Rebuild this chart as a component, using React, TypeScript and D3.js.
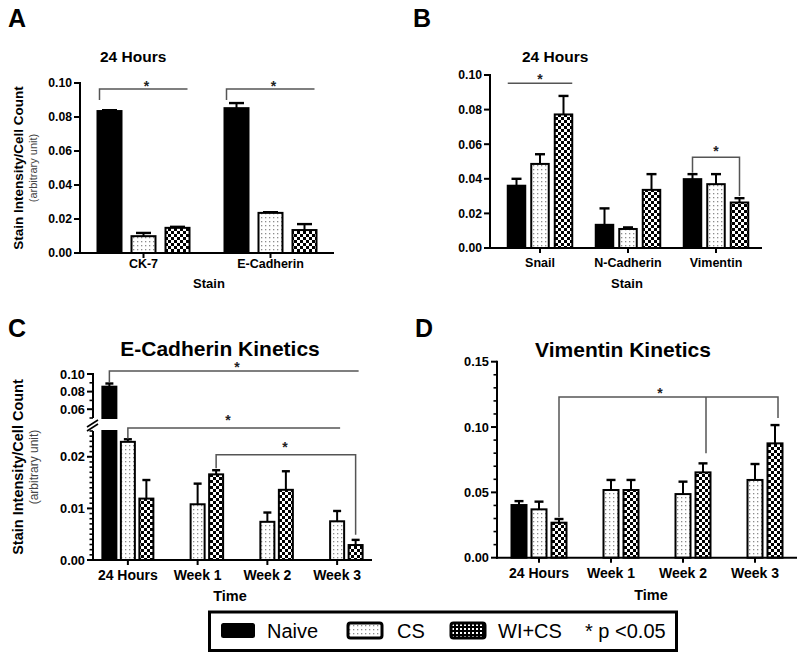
import React from "react";
import * as d3 from "d3";

const FONT = "'Liberation Sans', Arial, Helvetica, sans-serif";

const seriesNames = ["Naive", "CS", "WI+CS"];

// Panel A – 24 Hours
const stainsA = ["CK-7", "E-Cadherin"];
const naiveA = [0.0835, 0.0852];
const naiveErrA = [0.0005, 0.003];
const csA = [0.0099, 0.0236];
const csErrA = [0.0019, 0.0004];
const wiA = [0.0148, 0.0135];
const wiErrA = [0.0006, 0.0035];

// Panel B – 24 Hours
const stainsB = ["Snail", "N-Cadherin", "Vimentin"];
const naiveB = [0.036, 0.0134, 0.0398];
const naiveErrB = [0.004, 0.0095, 0.0029];
const csB = [0.0486, 0.011, 0.0369];
const csErrB = [0.0056, 0.0009, 0.0058];
const wiB = [0.0772, 0.0336, 0.0263];
const wiErrB = [0.0107, 0.0091, 0.0025];

// Panel C – E-Cadherin kinetics
const timesC = ["24 Hours", "Week 1", "Week 2", "Week 3"];
const naiveC = [0.0856, null, null, null];
const naiveErrC = [0.0036, 0, 0, 0];
const csC = [0.0229, 0.0108, 0.0074, 0.0075];
const csErrC = [0.0005, 0.004, 0.0018, 0.002];
const wiC = [0.0119, 0.0166, 0.0136, 0.0029];
const wiErrC = [0.0036, 0.0008, 0.0036, 0.001];

// Panel D – Vimentin kinetics
const timesD = ["24 Hours", "Week 1", "Week 2", "Week 3"];
const naiveD = [0.0403, null, null, null];
const naiveErrD = [0.003, 0, 0, 0];
const csD = [0.037, 0.0518, 0.0487, 0.0595];
const csErrD = [0.0059, 0.0077, 0.0095, 0.0122];
const wiD = [0.0268, 0.0518, 0.0653, 0.0875];
const wiErrD = [0.0028, 0.0077, 0.0069, 0.014];

const ticksAB = [0, 0.02, 0.04, 0.06, 0.08, 0.1];
const ticksCLower = [0, 0.01, 0.02];
const ticksCUpper = [0.06, 0.08, 0.1];
const ticksD = [0, 0.05, 0.1, 0.15];

const FILLS = ["#000", "url(#dots)", "url(#checker)"];

type Num = number | null;

function Bar({ cx, bw, yTop, yBottom, kind }: any) {
  return (
    <rect x={cx - bw / 2} y={yTop} width={bw} height={yBottom - yTop}
      fill={FILLS[kind]} stroke="#000" strokeWidth={2} />
  );
}

function ErrBar({ cx, capW, yFrom, yTo }: any) {
  return (
    <g>
      <line x1={cx} x2={cx} y1={yFrom} y2={yTo} stroke="#000" strokeWidth={2} />
      <line x1={cx - capW / 2} x2={cx + capW / 2} y1={yTo} y2={yTo} stroke="#000" strokeWidth={2.4} />
    </g>
  );
}

function YAxis({ x, scale, major, minor = [], fmt, fs, yA, yB }: any) {
  const r = scale.range();
  return (
    <g>
      <line x1={x} x2={x} y1={yA ?? r[0] + 1} y2={yB ?? r[1] - 1} stroke="#000" strokeWidth={2} />
      {minor.map((v: number) => (
        <line key={"m" + v} x1={x - 3.5} x2={x} y1={scale(v)} y2={scale(v)} stroke="#000" strokeWidth={1.6} />
      ))}
      {major.map((v: number) => (
        <g key={v}>
          <line x1={x - 6} x2={x} y1={scale(v)} y2={scale(v)} stroke="#000" strokeWidth={2} />
          <text x={x - 8} y={scale(v)} dy="0.36em" textAnchor="end" fontFamily={FONT}
            fontWeight="bold" fontSize={fs}>{fmt(v)}</text>
        </g>
      ))}
    </g>
  );
}

function XAxis({ x0, x1, y, scale, cats, fs, labelY }: any) {
  return (
    <g>
      <line x1={x0 - 1} x2={x1} y1={y} y2={y} stroke="#000" strokeWidth={2} />
      {cats.map((c: string) => {
        const cx = scale(c) + scale.bandwidth() / 2;
        return (
          <g key={c}>
            <line x1={cx} x2={cx} y1={y} y2={y + 5} stroke="#000" strokeWidth={2} />
            <text x={cx} y={labelY} textAnchor="middle" fontFamily={FONT} fontWeight="bold" fontSize={fs}>{c}</text>
          </g>
        );
      })}
    </g>
  );
}

function groupBars(cats: string[], xs: any, ys: any, vals: Num[][], errs: number[][], pitch: number, bw: number, capW: number) {
  const out: any[] = [];
  cats.forEach((c, i) => {
    const cx0 = xs(c) + xs.bandwidth() / 2;
    vals.forEach((arr, s) => {
      const v = arr[i];
      if (v == null) return;
      const cx = cx0 + (s - 1) * pitch;
      out.push(<ErrBar key={`e${c}${s}`} cx={cx} capW={capW} yFrom={ys(v)} yTo={ys(v + errs[s][i])} />);
      out.push(<Bar key={`b${c}${s}`} cx={cx} bw={bw} yTop={ys(v)} yBottom={ys(0)} kind={s} />);
    });
  });
  return out;
}

function Star({ x, y, fs = 14 }: any) {
  return <text x={x} y={y} textAnchor="middle" fontFamily={FONT} fontWeight="bold" fontSize={fs} fill="#222">*</text>;
}

const BR = { stroke: "#555", strokeWidth: 1.5, fill: "none" };

const f2 = (v: number) => v.toFixed(2);

export default function App() {
  // ---------- Panel A ----------
  const yA = d3.scaleLinear().domain([0, 0.1]).range([253, 83]);
  const xA = d3.scaleBand().domain(stainsA).range([80, 334]);
  const pA = 34, bwA = 24;
  const cA = (c: string) => (xA(c) as number) + xA.bandwidth() / 2;

  // ---------- Panel B ----------
  const yB = d3.scaleLinear().domain([0, 0.1]).range([248, 75]);
  const xB = d3.scaleBand().domain(stainsB).range([496, 760]);
  const pB = 23.5, bwB = 17.5;
  const cB = (c: string) => (xB(c) as number) + xB.bandwidth() / 2;

  // ---------- Panel C ----------
  const yCL = d3.scaleLinear().domain([0, 0.025]).range([560, 431]);
  const yCU = d3.scaleLinear().domain([0.05, 0.1]).range([418, 374]);
  const xC = d3.scaleBand().domain(timesC).range([93, 372]);
  const pC = 18.5, bwC = 14;
  const cC = (c: string) => (xC(c) as number) + xC.bandwidth() / 2;
  const minorCL = d3.range(0, 26).map((i) => i / 1000).filter((v) => !ticksCLower.some((t) => Math.abs(t - v) < 1e-9));
  const minorCU = [0.05, 0.07, 0.09];

  // ---------- Panel D ----------
  const yD = d3.scaleLinear().domain([0, 0.15]).range([557.7, 361.7]);
  const xD = d3.scaleBand().domain(timesD).range([503, 791]);
  const pD = 20, bwD = 15;
  const cD = (c: string) => (xD(c) as number) + xD.bandwidth() / 2;
  const minorD = d3.range(0, 16).map((i) => i / 100).filter((v) => !ticksD.some((t) => Math.abs(t - v) < 1e-9));

  // Panel C bars (naive bar drawn across the broken axis)
  const cBars: any[] = [];
  timesC.forEach((t, i) => {
    const cx0 = cC(t);
    const n = naiveC[i];
    if (n != null) {
      const cx = cx0 - pC;
      cBars.push(<ErrBar key={"ne" + t} cx={cx} capW={8} yFrom={yCU(n)} yTo={yCU(n + naiveErrC[i])} />);
      cBars.push(<Bar key={"nu" + t} cx={cx} bw={bwC} yTop={yCU(n)} yBottom={yCU(0.05)} kind={0} />);
      cBars.push(<Bar key={"nl" + t} cx={cx} bw={bwC} yTop={yCL(0.025)} yBottom={yCL(0)} kind={0} />);
    }
  });
  cBars.push(...groupBars(timesC, xC, yCL, [[null, null, null, null], csC, wiC], [naiveErrC, csErrC, wiErrC], pC, bwC, 8));

  const legendItems = [
    { kind: 0, sx: 221, tx: 267 },
    { kind: 1, sx: 348, tx: 397 },
    { kind: 2, sx: 451, tx: 498 },
  ];

  return (
    <svg width={800} height={656} style={{ position: "absolute", left: 0, top: 0, background: "#fff" }}>
      <defs>
        <pattern id="dots" width="4" height="4" patternUnits="userSpaceOnUse">
          <rect width="4" height="4" fill="#fff" />
          <rect x="1" y="1" width="1.3" height="1.3" fill="#8c8c8c" />
        </pattern>
        <pattern id="checker" width="6" height="6" patternUnits="userSpaceOnUse">
          <rect width="6" height="6" fill="#fff" />
          <rect width="3" height="3" fill="#000" />
          <rect x="3" y="3" width="3" height="3" fill="#000" />
        </pattern>
        <pattern id="checkerS" width="4" height="4" patternUnits="userSpaceOnUse">
          <rect width="4" height="4" fill="#000" />
          <rect x="0" y="0" width="2" height="2" fill="#fff" />
        </pattern>
      </defs>
      <rect width={800} height={656} fill="#fff" />

      {/* ================= Panel A ================= */}
      <text x={8} y={27} fontFamily={FONT} fontWeight="bold" fontSize={25}>A</text>
      <text x={100} y={62} fontFamily={FONT} fontWeight="bold" fontSize={15.5}>24 Hours</text>
      <text transform={`translate(18,168) rotate(-90)`} textAnchor="middle" dy="0.35em" fontFamily={FONT} fontWeight="bold" fontSize={13.5}>Stain Intensity/Cell Count</text>
      <text transform={`translate(33,168) rotate(-90)`} textAnchor="middle" dy="0.35em" fontFamily={FONT} fontSize={11} fill="#444">(arbitrary unit)</text>
      {groupBars(stainsA, xA, yA, [naiveA, csA, wiA], [naiveErrA, csErrA, wiErrA], pA, bwA, 15)}
      <YAxis x={80} scale={yA} major={ticksAB} fmt={f2} fs={12.2} />
      <XAxis x0={80} x1={334} y={253} scale={xA} cats={stainsA} fs={12.5} labelY={268} />
      <text x={209} y={288} textAnchor="middle" fontFamily={FONT} fontWeight="bold" fontSize={13}>Stain</text>
      {stainsA.map((s, i) => {
        const c = cA(s);
        const xl = c - pA - bwA / 2 + 2;
        const xr = c + pA + bwA / 2 - 2;
        return (
          <g key={"brA" + i}>
            <path d={`M${xl},${yA(0.09)} V${yA(0.0965)} H${xr}`} {...BR} />
            <Star x={c + 3} y={yA(0.0955)} />
          </g>
        );
      })}

      {/* ================= Panel B ================= */}
      <text x={413} y={27} fontFamily={FONT} fontWeight="bold" fontSize={25}>B</text>
      <text x={522} y={62} fontFamily={FONT} fontWeight="bold" fontSize={15.5}>24 Hours</text>
      {groupBars(stainsB, xB, yB, [naiveB, csB, wiB], [naiveErrB, csErrB, wiErrB], pB, bwB, 10)}
      <YAxis x={490} scale={yB} major={ticksAB} fmt={f2} fs={12.2} />
      <XAxis x0={490} x1={762} y={248} scale={xB} cats={stainsB} fs={12.5} labelY={267} />
      <text x={627} y={288} textAnchor="middle" fontFamily={FONT} fontWeight="bold" fontSize={13}>Stain</text>
      {(() => {
        const c0 = cB(stainsB[0]);
        const c2 = cB(stainsB[2]);
        return (
          <g>
            <path d={`M${c0 - pB - bwB / 2},${yB(0.0953)} H${c0 + pB + bwB / 2}`} {...BR} />
            <Star x={c0} y={yB(0.0955) + 1} />
            <path d={`M${c2 - pB},${yB(0.0435)} V${yB(0.0525)} H${c2 + pB} V${yB(0.03)}`} {...BR} />
            <Star x={c2} y={yB(0.0535) + 1} />
          </g>
        );
      })()}

      {/* ================= Panel C ================= */}
      <text x={8} y={337} fontFamily={FONT} fontWeight="bold" fontSize={25}>C</text>
      <text x={220} y={356} textAnchor="middle" fontFamily={FONT} fontWeight="bold" fontSize={21}>E-Cadherin Kinetics</text>
      <text transform={`translate(18,467) rotate(-90)`} textAnchor="middle" dy="0.35em" fontFamily={FONT} fontWeight="bold" fontSize={14.5}>Stain Intensity/Cell Count</text>
      <text transform={`translate(34,467) rotate(-90)`} textAnchor="middle" dy="0.35em" fontFamily={FONT} fontSize={12} fill="#444">(arbitrary unit)</text>
      {cBars}
      <YAxis x={93} scale={yCU} major={ticksCUpper} minor={minorCU} fmt={f2} fs={12.8} yA={yCU(0.05)} yB={yCU(0.1) - 1} />
      <YAxis x={93} scale={yCL} major={ticksCLower} minor={minorCL} fmt={f2} fs={12.8} yA={yCL(0) + 1} yB={yCL(0.025)} />
      <line x1={87} x2={98} y1={yCU(0.05) + 9} y2={yCU(0.05) + 2} stroke="#000" strokeWidth={1.6} />
      <line x1={87} x2={98} y1={yCU(0.05) + 13} y2={yCU(0.05) + 6} stroke="#000" strokeWidth={1.6} />
      <XAxis x0={93} x1={372} y={560} scale={xC} cats={timesC} fs={14} labelY={580} />
      <text x={230} y={601} textAnchor="middle" fontFamily={FONT} fontWeight="bold" fontSize={14.5}>Time</text>
      {(() => {
        const c0 = cC(timesC[0]);
        const c1 = cC(timesC[1]);
        const c3 = cC(timesC[3]);
        return (
          <g>
            <path d={`M${c0 - pC},${yCU(0.0905)} V${yCU(0.1035)} H${c3 + pC + 3}`} {...BR} />
            <Star x={237} y={yCU(0.1045) + 2} />
            <path d={`M${c0},${yCL(0.0235)} V${yCL(0.0256)} H${c3 + 3}`} {...BR} />
            <Star x={228} y={yCL(0.0265) + 2} />
            <path d={`M${c1 + pC},${yCL(0.0178)} V${yCL(0.0204)} H${c3 + pC} V${yCL(0.0049)}`} {...BR} />
            <Star x={285} y={yCL(0.0213) + 2} />
          </g>
        );
      })()}

      {/* ================= Panel D ================= */}
      <text x={415} y={337} fontFamily={FONT} fontWeight="bold" fontSize={25}>D</text>
      <text x={623} y={357} textAnchor="middle" fontFamily={FONT} fontWeight="bold" fontSize={21}>Vimentin Kinetics</text>
      {groupBars(timesD, xD, yD, [naiveD, csD, wiD], [naiveErrD, csErrD, wiErrD], pD, bwD, 9)}
      <YAxis x={497} scale={yD} major={ticksD} minor={minorD} fmt={f2} fs={12.8} />
      <XAxis x0={497} x1={797} y={557.7} scale={xD} cats={timesD} fs={14} labelY={578} />
      <text x={651} y={600} textAnchor="middle" fontFamily={FONT} fontWeight="bold" fontSize={14.5}>Time</text>
      {(() => {
        const c0 = cD(timesD[0]);
        const c2 = cD(timesD[2]);
        const c3 = cD(timesD[3]);
        const yl = yD(0.123);
        return (
          <g>
            <path d={`M${c0 + pD},${yD(0.031)} V${yl} H${c3 + pD + 3} V${yD(0.107)}`} {...BR} />
            <path d={`M${c2 + pD + 3},${yl} V${yD(0.08)}`} {...BR} />
            <Star x={660} y={yl + 1} />
          </g>
        );
      })()}

      {/* ================= Legend ================= */}
      <rect x={209.5} y={612} width={467} height={38.5} fill="none" stroke="#000" strokeWidth={3} />
      {legendItems.map((it, i) => (
        <g key={"lg" + i}>
          <rect x={it.sx} y={623} width={34} height={15} rx={2.5}
            fill={it.kind === 0 ? "#000" : it.kind === 1 ? "url(#dots)" : "url(#checkerS)"}
            stroke="#000" strokeWidth={it.kind === 0 ? 0 : 3} />
          <text x={it.tx} y={638} fontFamily={FONT} fontSize={20}>{seriesNames[it.kind]}</text>
        </g>
      ))}
      <text x={585} y={638} fontFamily={FONT} fontSize={20}>* p &lt;0.05</text>
    </svg>
  );
}
